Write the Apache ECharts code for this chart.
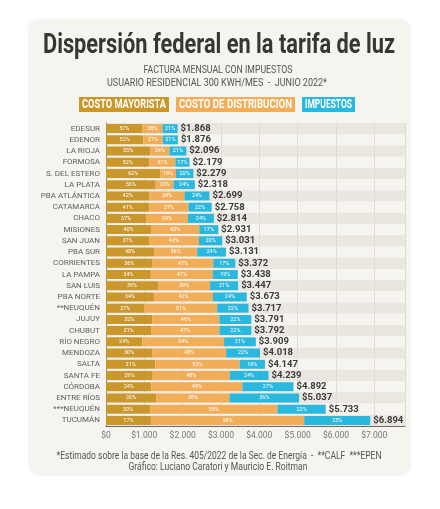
<!DOCTYPE html>
<html>
<head>
<meta charset="utf-8">
<script src="https://cdn.jsdelivr.net/npm/echarts@6/dist/echarts.min.js"></script>
<style>
  html, body { margin: 0; padding: 0; background: #ffffff; }
  #chart { width: 440px; height: 509px; }
</style>
</head>
<body>
<div id="chart"></div>
<script>
const provinces = ["EDESUR", "EDENOR", "LA RIOJA", "FORMOSA", "S. DEL ESTERO", "LA PLATA", "PBA ATLÁNTICA",
  "CATAMARCA", "CHACO", "MISIONES", "SAN JUAN", "PBA SUR", "CORRIENTES", "LA PAMPA", "SAN LUIS",
  "PBA NORTE", "**NEUQUÉN", "JUJUY", "CHUBUT", "RÍO NEGRO", "MENDOZA", "SALTA", "SANTA FE",
  "CÓRDOBA", "ENTRE RÍOS", "***NEUQUÉN", "TUCUMÁN"];
const totals = [1868, 1876, 2096, 2179, 2279, 2318, 2699, 2758, 2814, 2931, 3031, 3131, 3372, 3438, 3447,
  3673, 3717, 3791, 3792, 3909, 4018, 4147, 4239, 4892, 5037, 5733, 6894];
const pctMayorista = [51, 52, 55, 52, 62, 56, 42, 41, 37, 40, 37, 40, 36, 34, 39, 34, 27, 32, 31, 24, 30, 31, 29, 24, 26, 20, 17];
const pctDistribucion = [28, 27, 24, 31, 18, 20, 34, 37, 39, 43, 43, 36, 47, 47, 39, 42, 51, 46, 47, 54, 48, 53, 48, 48, 38, 58, 58];
const pctImpuestos = [21, 21, 21, 17, 20, 24, 24, 22, 24, 17, 20, 24, 17, 19, 21, 24, 22, 22, 22, 21, 22, 16, 24, 27, 36, 22, 25];
const xTicks = [0, 1000, 2000, 3000, 4000, 5000, 6000, 7000];

const FONT = "Roboto, sans-serif";
const colors = { mayorista: "#c9972c", distribucion: "#f1ad57", impuestos: "#2bb8df" };

function fmtMoney(v) {
  return "$" + String(v).replace(/\B(?=(\d{3})+(?!\d))/g, ".");
}

function segment(pcts, i) {
  const sum = pctMayorista[i] + pctDistribucion[i] + pctImpuestos[i];
  return totals[i] * pcts[i] / sum;
}

// no condensed face is installed, so headline texts are squeezed to the width they have in the picture
const measureCtx = document.createElement("canvas").getContext("2d");
function squeezed(cx, cy, text, font, fill, targetWidth) {
  measureCtx.font = font;
  const w = measureCtx.measureText(text).width;
  return {
    type: "text",
    x: cx,
    y: cy,
    scaleX: Math.min(1, targetWidth / w),
    style: { text: text, font: font, fill: fill, align: "center", verticalAlign: "middle" },
  };
}

function legendBox(x, w, text, bg) {
  return {
    type: "group",
    x: x,
    y: 97,
    children: [
      { type: "rect", shape: { x: 0, y: 0, width: w, height: 15 }, style: { fill: bg } },
      squeezed(w / 2, 8, text, "bold 12px " + FONT, "#ffffff", w - 6),
    ],
  };
}

function buildSeries(name, pcts, color) {
  return {
    name: name,
    type: "bar",
    stack: "total",
    barWidth: "80%",
    itemStyle: { color: color },
    data: provinces.map((p, i) => ({ value: segment(pcts, i), pct: pcts[i] })),
    label: {
      show: true,
      position: "inside",
      color: "#ffffff",
      fontFamily: FONT,
      fontSize: 5.5,
      formatter: (p) => p.data.pct + "%",
    },
  };
}

const series = [
  buildSeries("COSTO MAYORISTA", pctMayorista, colors.mayorista),
  buildSeries("COSTO DE DISTRIBUCION", pctDistribucion, colors.distribucion),
  buildSeries("IMPUESTOS", pctImpuestos, colors.impuestos),
  {
    name: "total",
    type: "bar",
    stack: "total",
    barWidth: "80%",
    silent: true,
    itemStyle: { color: "transparent" },
    data: provinces.map(() => 0),
    label: {
      show: true,
      position: "right",
      distance: 3,
      color: "#3a3a3a",
      fontFamily: FONT,
      fontWeight: "bold",
      fontSize: 9.5,
      formatter: (p) => fmtMoney(totals[p.dataIndex]),
    },
  },
];

const chart = echarts.init(document.getElementById("chart"));

chart.setOption({
  backgroundColor: "#ffffff",
  animation: false,
  graphic: [
    {
      type: "rect",
      shape: { x: 30, y: 21, width: 379, height: 453, r: 8 },
      style: { fill: "#f6f4ef", shadowBlur: 4, shadowColor: "rgba(0,0,0,0.12)" },
      z: -10,
    },
    squeezed(219, 46, "Dispersión federal en la tarifa de luz", "bold 27px " + FONT, "#363636", 352),
    squeezed(218, 70, "FACTURA MENSUAL CON IMPUESTOS", "10.5px " + FONT, "#555555", 149),
    squeezed(217, 83, "USUARIO RESIDENCIAL 300 KWH/MES  -  JUNIO 2022*", "10.5px " + FONT, "#555555", 220),
    legendBox(79, 90, "COSTO MAYORISTA", colors.mayorista),
    legendBox(176, 119, "COSTO DE DISTRIBUCION", colors.distribucion),
    legendBox(302, 53, "IMPUESTOS", colors.impuestos),
    squeezed(219, 456, "*Estimado sobre la base de la Res. 405/2022 de la Sec. de Energía  -  **CALF  ***EPEN",
      "10.5px " + FONT, "#555555", 325),
    squeezed(218, 467, "Gráfico: Luciano Caratori y Mauricio E. Roitman", "10.5px " + FONT, "#555555", 179),
  ],
  grid: { left: 106, right: 35, top: 123, bottom: 83 },
  xAxis: {
    type: "value",
    min: 0,
    max: 7800,
    interval: 1000,
    axisLine: { show: true, lineStyle: { color: "#6a6a6a" } },
    axisTick: { show: false },
    axisLabel: {
      color: "#777777",
      fontFamily: FONT,
      fontSize: 8.5,
      margin: 5,
      formatter: (v) => (xTicks.includes(v) ? fmtMoney(v) : ""),
    },
    splitLine: { show: true, lineStyle: { color: "#e0ddd6" } },
  },
  yAxis: {
    type: "category",
    inverse: true,
    data: provinces,
    axisLine: { show: true, lineStyle: { color: "#8a8a8a" } },
    axisTick: { show: false },
    axisLabel: { color: "#5e5e5e", fontFamily: FONT, fontSize: 8, margin: 6 },
    splitArea: { show: true, areaStyle: { color: ["#eae7e1", "#f6f4ef"] } },
  },
  series: series,
});
</script>
</body>
</html>
